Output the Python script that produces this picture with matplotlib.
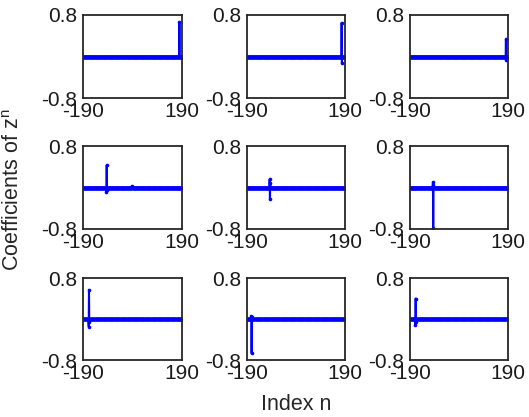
import numpy as np
import matplotlib
matplotlib.use("Agg")
import matplotlib.pyplot as plt

plt.rcParams['font.family'] = ['Liberation Sans', 'DejaVu Sans']

# index range
n_min, n_max = -190, 190
x_ticks = [-190, 190]
y_ticks = [-0.8, 0.8]
y_tick_labels = ['-0.8', '0.8']

# nonzero coefficients per panel (index, value); all other coefficients are ~0
spike_n = [
    [180],
    [177, 178],
    [182, 183],
    [-100, -99, -98, -3],
    [-102, -101, -100],
    [-101, -100, -99],
    [-168, -167, -166],
    [-173, -172, -171],
    [-169, -168, -167],
]
spike_v = [
    [0.66],
    [0.65, -0.13],
    [0.33, -0.07],
    [-0.08, 0.43, -0.05, 0.03],
    [0.16, -0.23, 0.08],
    [0.10, -0.79, 0.05],
    [-0.15, 0.57, -0.05],
    [0.06, -0.67, 0.04],
    [-0.12, 0.40, -0.05],
]

W, H = 529, 417
fig = plt.figure(figsize=(W / 100, H / 100), dpi=100)

lefts = [83, 247, 410]
widths = [99, 98, 98]
tops = [15, 146, 278]
heights = [83, 83, 82]

n = np.arange(n_min, n_max + 1)
for k in range(9):
    r, c = divmod(k, 3)
    ax = fig.add_axes([lefts[c] / W, 1 - (tops[r] + heights[r]) / H,
                       widths[c] / W, heights[r] / H])
    y = np.zeros_like(n, dtype=float)
    for idx, val in zip(spike_n[k], spike_v[k]):
        y[idx - n_min] = val
    ax.plot(n, y, color='#0000ff', lw=1.5, marker='.', ms=3.2)
    ax.set_xlim(n_min, n_max)
    ax.set_ylim(-0.8, 0.8)
    ax.set_xticks(x_ticks)
    ax.set_xticklabels([str(t) for t in x_ticks])
    ax.set_yticks(y_ticks)
    ax.set_yticklabels(y_tick_labels)
    ax.tick_params(axis='y', length=0, labelsize=15, pad=4, colors='#1a1a1a')
    ax.tick_params(axis='x', length=0, labelsize=15, pad=3, colors='#1a1a1a')
    for s in ax.spines.values():
        s.set_linewidth(1.3)
        s.set_color('#262626')

fig.text(14 / W, 1 - 190 / H, 'Coefficients of z$^{\\mathregular{n}}$', rotation=90,
         ha='center', va='center', fontsize=15.5, color='#262626')
fig.text(296 / W, 1 - 405 / H, 'Index n', ha='center', va='center',
         fontsize=15.5, color='#262626')

fig.savefig('out.png', dpi=100)
